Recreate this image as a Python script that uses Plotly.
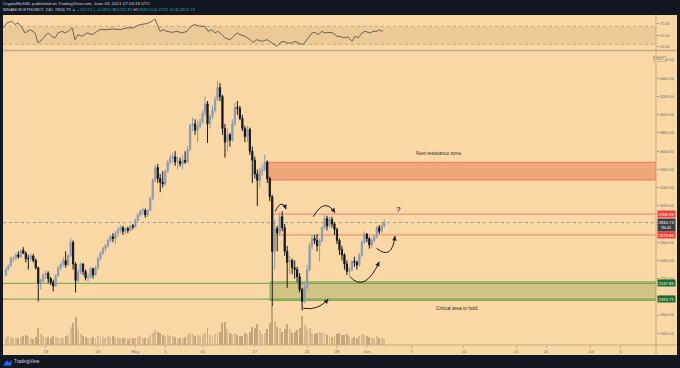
import pandas as pd
import plotly.graph_objects as go

# ---------------- data ----------------
FIRST_CANDLE = "2021-04-13 16:00"   # 8h candles, UTC
EPOCH = "2021-04-19"                # day 0 of the numeric time axis
first_open = 2240

highs = [2320,
    2360, 2445, 2440, 2480, 2500, 2520, 2545, 2500, 2460, 2480, 2470, 2420,
    2330, 2200, 2260, 2290, 2280, 2220, 2190, 2250, 2340, 2380, 2440, 2500,
    2470, 2645, 2620, 2380, 2300, 2380, 2370, 2300, 2260, 2330, 2320, 2340,
    2440, 2500, 2550, 2580, 2640, 2680, 2700, 2720, 2760, 2790, 2780, 2770,
    2770, 2790, 2800, 2860, 2920, 2960, 2980, 2970, 2960, 3100, 3300, 3450,
    3460, 3350, 3380, 3400, 3500, 3560, 3580, 3600, 3540, 3530, 3560, 3600,
    3660, 3900, 3970, 3950, 3940, 3960, 4050, 4200, 4150, 4000, 4100, 4200,
    4372, 4350, 4220, 3900, 3850, 3800, 3950, 4130, 4150, 4100, 4000, 3880,
    3880, 3860, 3650, 3540, 3400, 3420, 3450, 3560, 3500, 3320, 3120, 2850,
    2780, 2930, 2940, 2800, 2560, 2450, 2420, 2400, 2330, 2260, 2100, 2150,
    2350, 2600, 2680, 2680, 2690, 2640, 2780, 2910, 2890, 2880, 2880, 2820,
    2760, 2640, 2560, 2480, 2400, 2330, 2400, 2440, 2400, 2480, 2620, 2720,
    2700, 2660, 2640, 2680, 2780, 2790, 2820, 2849]
lows = [2230,
    2290, 2330, 2380, 2400, 2420, 2430, 2470, 2380, 2300, 2390, 2380, 2300,
    1950, 2080, 2150, 2200, 2150, 2130, 2060, 2110, 2220, 2290, 2330, 2320,
    2340, 2440, 2300, 2050, 2150, 2250, 2240, 2180, 2170, 2200, 2200, 2230,
    2300, 2400, 2460, 2500, 2540, 2600, 2600, 2580, 2660, 2700, 2680, 2690,
    2700, 2720, 2740, 2760, 2830, 2880, 2900, 2870, 2880, 2940, 3060, 3260,
    3250, 3150, 3200, 3220, 3360, 3450, 3470, 3440, 3400, 3430, 3400, 3460,
    3470, 3600, 3820, 3780, 3700, 3850, 3900, 3980, 3690, 3850, 3950, 4020,
    4150, 4150, 3780, 3530, 3600, 3650, 3700, 3880, 4000, 3940, 3820, 3700,
    3700, 3560, 3250, 3300, 3000, 3200, 3330, 3380, 3250, 3050, 1900, 2300,
    2500, 2680, 2720, 2450, 2100, 2250, 2250, 2200, 2160, 2050, 1850, 1930,
    2080, 2280, 2520, 2580, 2500, 2390, 2600, 2740, 2730, 2760, 2760, 2680,
    2580, 2460, 2400, 2300, 2240, 2220, 2280, 2330, 2300, 2330, 2440, 2580,
    2600, 2530, 2540, 2600, 2640, 2690, 2700, 2760]
closes = [2300,
    2340, 2420, 2430, 2460, 2440, 2510, 2480, 2420, 2420, 2450, 2400, 2320,
    2150, 2180, 2240, 2260, 2200, 2160, 2120, 2230, 2320, 2360, 2400, 2350,
    2450, 2600, 2360, 2180, 2270, 2360, 2280, 2210, 2220, 2310, 2240, 2320,
    2420, 2480, 2530, 2560, 2620, 2660, 2640, 2700, 2740, 2760, 2720, 2750,
    2730, 2780, 2770, 2840, 2900, 2940, 2950, 2900, 2950, 3080, 3280, 3420,
    3300, 3260, 3240, 3380, 3480, 3520, 3540, 3480, 3490, 3460, 3500, 3480,
    3620, 3880, 3900, 3830, 3880, 3920, 4020, 4120, 3900, 3980, 4050, 4170,
    4300, 4200, 3850, 3700, 3780, 3720, 3900, 4080, 4070, 3960, 3850, 3760,
    3840, 3600, 3500, 3350, 3280, 3380, 3400, 3480, 3300, 3100, 2500, 2750,
    2700, 2880, 2760, 2500, 2380, 2400, 2320, 2300, 2220, 2080, 1950, 2100,
    2300, 2560, 2640, 2620, 2560, 2620, 2760, 2860, 2780, 2850, 2800, 2740,
    2620, 2520, 2460, 2360, 2280, 2300, 2390, 2380, 2350, 2460, 2600, 2690,
    2640, 2570, 2620, 2660, 2760, 2720, 2780, 2816.73]
volumes = [600,   # thousand ETH per 8h candle
    700, 650, 600, 600, 550, 650, 750, 800, 700, 550, 500, 650,
    1400, 900, 700, 600, 650, 600, 700, 650, 600, 550, 600, 700,
    800, 1500, 1800, 2300, 1300, 900, 700, 650, 550, 600, 650, 600,
    700, 750, 650, 600, 700, 650, 700, 650, 600, 550, 600, 550,
    500, 600, 550, 600, 650, 700, 600, 550, 600, 800, 1000, 1200,
    1100, 1000, 800, 750, 800, 700, 700, 650, 600, 550, 600, 650,
    800, 1000, 900, 700, 800, 650, 800, 1000, 1400, 800, 750, 900,
    1000, 1100, 1800, 1900, 1300, 1000, 900, 1000, 800, 700, 750, 1000,
    900, 1100, 1500, 1400, 1700, 1200, 900, 1000, 1300, 1800, 3300, 2000,
    1500, 1400, 1100, 1300, 1700, 1300, 1000, 1100, 1200, 1400, 2400, 1600,
    1300, 1400, 1000, 900, 1000, 1100, 1000, 1100, 800, 700, 650, 700,
    900, 1000, 800, 800, 900, 700, 600, 650, 600, 700, 900, 800,
    700, 650, 600, 600, 700, 550, 600, 500]

# RSI (top pane), time in days from EPOCH
rsi_days = [-5.72, -5.18, -4.51, -4.11, -3.71, -3.17, -2.77, -2.10, -1.43, -1.03,
    -0.50, -0.09, 0.31, 0.84, 1.25, 1.65, 2.18, 2.58, 2.99, 3.54, 3.92, 4.33,
    4.86, 5.53, 6.20, 6.87, 7.27, 8.21, 9.01, 9.95, 10.89, 11.69, 12.23, 12.63,
    13.56, 14.23, 14.64, 14.90, 15.31, 15.71, 16.24, 16.91, 17.58, 18.25, 18.92,
    19.59, 20.00, 20.66, 21.33, 21.73, 22.27, 22.67, 23.07, 23.61, 24.01, 24.68,
    25.08, 25.62, 26.02, 26.69, 27.36, 27.76, 28.29, 28.96, 29.63, 30.30, 30.97,
    31.37, 31.78, 32.31, 32.98, 33.38, 33.78, 34.45, 35.12, 35.66, 36.06, 36.46,
    37.00, 37.40, 37.80, 38.47, 39.00, 39.41, 39.81, 40.48, 41.01, 41.41, 41.82,
    42.35, 42.76, 43.42, 43.83, 44.36, 44.63, 45.03, 45.16]
rsi_values = [66.4, 77.4, 81.0, 73.7, 77.4, 66.4, 55.3, 62.6, 55.3, 33.2,
    40.5, 47.8, 55.3, 47.8, 44.3, 55.3, 58.8, 55.3, 58.8, 66.4, 40.5, 51.5,
    47.8, 55.3, 51.5, 58.8, 62.6, 62.6, 64.1, 62.6, 66.4, 66.4, 69.9, 73.7,
    75.9, 81.0, 86.3, 73.7, 58.8, 62.6, 58.8, 56.6, 58.8, 55.3, 58.8,
    71.5, 73.7, 69.9, 69.9, 58.8, 62.6, 55.3, 58.8, 51.5, 44.3, 40.5,
    47.8, 55.3, 51.5, 47.8, 40.5, 34.5, 40.5, 36.8, 40.5, 33.2, 25.7,
    33.2, 36.8, 33.2, 33.2, 36.8, 33.2, 29.5, 44.3, 55.3, 56.6, 51.5,
    58.8, 55.3, 56.6, 55.3, 47.8, 47.8, 44.3, 46.5, 36.8, 47.8, 44.3,
    55.3, 58.8, 55.3, 58.8, 58.8, 62.6, 58.8, 61.0]

tick_dates = ["2021-04-19", "2021-04-26", "2021-05-01", "2021-05-05", "2021-05-10",
              "2021-05-17", "2021-05-24", "2021-05-28", "2021-06-01", "2021-06-07",
              "2021-06-14", "2021-06-21", "2021-06-25", "2021-07-01", "2021-07-05"]
tick_labels = ["19", "26", "May", "5", "10", "17", "24", "28", "Jun", "7",
               "14", "21", "25", "Jul", "5"]
price_ticks = [1600, 1800, 2000, 2200, 2400, 2600, 2800, 3000, 3200, 3400,
               3600, 3800, 4000, 4200, 4400, 4600]
rsi_ticks = [25, 50, 75]

resistance_zone = [3283, 3478]
support_zone = [1960, 2165]
red_levels = [2908.93, 2679.86]
green_levels = [2147.85, 1974.71]
last_price = 2816.73
countdown = "35:41"

# ---------------- derived ----------------
epoch = pd.Timestamp(EPOCH)
def day_of(ts):
    return (pd.Timestamp(ts) - epoch) / pd.Timedelta(days=1)

times = pd.date_range(FIRST_CANDLE, periods=len(closes), freq="8h")
days = [(t - epoch) / pd.Timedelta(days=1) for t in times]
opens = [first_open] + closes[:-1]
tick_days = [day_of(t) for t in tick_dates]

X_RANGE = [-5.72, 81.72]
BG = "#f9d8a6"
DARK = "#131722"
BORDER = "#c2a880"
TXT = "#6d6a66"
FONT = "Liberation Sans, Arial, sans-serif"

# pane geometry (paper fractions)
MAIN_TOP = 0.8909
RSI_BOT = 0.8939

fig = go.Figure()

# volume (base axis, drawn underneath)
vol_colors = ["rgba(165,140,105,0.40)" if c >= o else "rgba(145,115,80,0.50)"
              for o, c in zip(opens, closes)]
fig.add_trace(go.Bar(x=days, y=volumes, marker=dict(color=vol_colors, line=dict(width=0)),
                     width=0.26, yaxis="y", xaxis="x", showlegend=False))

# candles on price axis (overlay)
fig.add_trace(go.Candlestick(
    x=days, open=opens, high=highs, low=lows, close=closes,
    xaxis="x", yaxis="y3", whiskerwidth=0,
    increasing=dict(line=dict(color="#8e9aae", width=1), fillcolor="#8e9aae"),
    decreasing=dict(line=dict(color="#15171c", width=1), fillcolor="#15171c"),
    showlegend=False))

# RSI
fig.add_trace(go.Scatter(x=rsi_days, y=rsi_values, mode="lines", xaxis="x", yaxis="y2",
                         line=dict(color="#6e6253", width=1), showlegend=False))

shapes = []
# light chart area incl. axes strips
shapes.append(dict(type="rect", xref="paper", yref="paper", x0=0, x1=1.0322,
                   y0=-0.0303, y1=1.0, fillcolor=BG, line=dict(width=0), layer="below"))
# RSI band & dashed levels
shapes.append(dict(type="rect", xref="paper", yref="y2", x0=0, x1=1, y0=30, y1=70,
                   fillcolor="rgba(150,110,60,0.13)", line=dict(width=0), layer="below"))
for lv in (30, 70):
    shapes.append(dict(type="line", xref="paper", yref="y2", x0=0, x1=1, y0=lv, y1=lv,
                       line=dict(color="rgba(120,100,80,0.35)", width=1, dash="dot"), layer="below"))
# zones
shapes.append(dict(type="rect", xref="x", yref="y3", x0=day_of("2021-05-18 15:00"), x1=X_RANGE[1],
                   y0=resistance_zone[0], y1=resistance_zone[1],
                   fillcolor="rgba(228,105,70,0.45)", line=dict(color="rgba(220,110,80,0.8)", width=1),
                   layer="below"))
shapes.append(dict(type="rect", xref="x", yref="y3", x0=day_of("2021-05-19 01:00"), x1=X_RANGE[1],
                   y0=support_zone[0], y1=support_zone[1],
                   fillcolor="rgba(110,150,60,0.30)", line=dict(color="rgba(110,160,70,0.8)", width=1),
                   layer="below"))
for lv in green_levels:
    shapes.append(dict(type="line", xref="paper", yref="y3", x0=0, x1=1, y0=lv, y1=lv,
                       line=dict(color="#86ad5e", width=1.2), layer="below"))
for lv in red_levels:
    shapes.append(dict(type="line", xref="x", yref="y3", x0=day_of("2021-05-19 10:00"), x1=X_RANGE[1],
                       y0=lv, y1=lv, line=dict(color="#ee8070", width=1), layer="below"))
shapes.append(dict(type="line", xref="paper", yref="y3", x0=0, x1=1, y0=last_price, y1=last_price,
                   line=dict(color="#9a9ba3", width=1, dash="dot"), layer="below"))

# hand-drawn curved arrows (day, price)
curves = [
    ((30.70, 2935), (31.60, 3091), (32.18, 2962)),
    ((35.83, 2880), (37.33, 3100), (38.74, 2924)),
    ((40.75, 2221), (42.76, 2042), (44.67, 2386)),
    ((44.32, 2533), (46.37, 2394), (46.77, 2668)),
    ((34.49, 1875), (36.46, 1845), (37.84, 1976)),
]
heads = [(-1.4, -3.8), (-2.2, -3.3), (-1.7, 3.6), (-0.5, 4.0), (-2.6, 3.0)]
for (a, c, b) in curves:
    shapes.append(dict(type="path", xref="x", yref="y3",
                       path=f"M {a[0]},{a[1]} Q {c[0]},{c[1]} {b[0]},{b[1]}",
                       line=dict(color="#1c1f26", width=1)))

# pane borders
shapes.append(dict(type="line", xref="paper", yref="paper", x0=0, x1=1.0322, y0=0.8924, y1=0.8924,
                   line=dict(color=BORDER, width=1.5)))
shapes.append(dict(type="line", xref="paper", yref="paper", x0=0, x1=1.0322, y0=0, y1=0,
                   line=dict(color=BORDER, width=1)))
shapes.append(dict(type="line", xref="paper", yref="paper", x0=1, x1=1, y0=-0.0303, y1=1,
                   line=dict(color=BORDER, width=1)))
# TradingView logo mark
shapes.append(dict(type="path", xref="paper", yref="paper",
                   path="M 0.0,-0.062 L 0.006,-0.046 L 0.009,-0.054 L 0.013,-0.046 L 0.013,-0.062 Z",
                   fillcolor="#2962ff", line=dict(width=0)))

ann = []
for (a, c, b), (hx, hy) in zip(curves, heads):
    ann.append(dict(x=b[0], y=b[1], xref="x", yref="y3", text="", showarrow=True,
                    ax=hx, ay=hy, arrowhead=2, arrowsize=0.9, arrowwidth=1, arrowcolor="#1c1f26"))

ann.append(dict(x=52.7, y=3569, xref="x", yref="y3", text="Next resistance zone.", showarrow=False,
                font=dict(size=4.8, color="#2b2b2b", family=FONT)))
ann.append(dict(x=55.1, y=1877, xref="x", yref="y3", text="Critical area to hold.", showarrow=False,
                font=dict(size=4.8, color="#2b2b2b", family=FONT)))
ann.append(dict(x=47.3, y=2962, xref="x", yref="y3", text="<b>?</b>", showarrow=False,
                font=dict(size=8, color="#4a4a4a", family=FONT)))

# right-axis price labels
def price_tag(price, text, color, yshift=0):
    return dict(x=1.0168, y=price, xref="paper", yref="y3", text=text, showarrow=False,
                xanchor="center", yanchor="middle", bgcolor=color, borderpad=0.6,
                font=dict(size=4.2, color="white", family=FONT), yshift=yshift)
ann.append(price_tag(red_levels[0], f"{red_levels[0]:.2f}", "#ef3f3a"))
ann.append(price_tag(last_price, f"{last_price:.2f}<br>{countdown}", "#3b3f4a", yshift=-2))
ann.append(price_tag(red_levels[1], f"{red_levels[1]:.2f}", "#ef3f3a"))
for lv in green_levels:
    ann.append(price_tag(lv, f"{lv:.2f}", "#1f6b2a"))
ann.append(dict(x=1.0153, y=0.877, xref="paper", yref="paper", text="USDT", showarrow=False,
                font=dict(size=3.6, color="#555", family=FONT), bordercolor="#a39a8c",
                borderwidth=0.5, borderpad=0.5, bgcolor=BG))

# header
ann.append(dict(x=-0.003, y=1.0348, xref="paper", yref="paper", xanchor="left", yanchor="middle",
                showarrow=False, font=dict(size=4.4, color="#d1d4dc", family=FONT),
                text="CryptoMichNL published on TradingView.com, June 03, 2021 07:24:19 UTC"))
teal = "#26a69a"
ann.append(dict(x=-0.003, y=1.0152, xref="paper", yref="paper", xanchor="left", yanchor="middle",
                showarrow=False, font=dict(size=4.3, color="#d1d4dc", family=FONT),
                text=("BINANCE:ETHUSDT, 240  2816.73 "
                      f"<span style='color:{teal}'>▲ +110.51 (+4.08%)</span> "
                      f"O:<span style='color:{teal}'>2725.81</span> "
                      f"H:<span style='color:{teal}'>2849.00</span> "
                      f"L:<span style='color:{teal}'>2723.16</span> "
                      f"C:<span style='color:{teal}'>2816.73</span>")))
ann.append(dict(x=0.0138, y=-0.0515, xref="paper", yref="paper", xanchor="left", yanchor="middle",
                showarrow=False, font=dict(size=4.6, color="#d1d4dc", family=FONT),
                text="TradingView"))

fig.update_layout(
    width=680, height=368, autosize=False,
    margin=dict(l=3, r=24, t=15, b=23, pad=0),
    paper_bgcolor=DARK, plot_bgcolor=BG,
    font=dict(family=FONT, color=TXT),
    showlegend=False, bargap=0,
    shapes=shapes, annotations=ann,
    xaxis=dict(range=X_RANGE, showgrid=False, zeroline=False, showline=False,
               tickvals=tick_days, ticktext=tick_labels, ticks="outside", ticklen=2,
               tickcolor=BORDER, tickfont=dict(size=4.3, color=TXT), anchor="y",
               rangeslider=dict(visible=False), fixedrange=True),
    yaxis=dict(domain=[0, MAIN_TOP], range=[0, 24000], visible=False, fixedrange=True),
    yaxis3=dict(overlaying="y", range=[1471.5, 4700], side="right", anchor="x",
                showgrid=False, zeroline=False, showline=False,
                tickvals=price_ticks, ticktext=[f"{v:.2f}" for v in price_ticks],
                ticks="outside", ticklen=2, tickcolor="#9b8f80",
                tickfont=dict(size=3.9, color=TXT)),
    yaxis2=dict(domain=[RSI_BOT, 1], range=[17.7, 94.8], side="right", anchor="x",
                showgrid=False, zeroline=False, showline=False,
                tickvals=rsi_ticks, ticktext=[f"{v:.2f}" for v in rsi_ticks],
                ticks="outside", ticklen=2, tickcolor="#9b8f80",
                tickfont=dict(size=3.9, color=TXT)),
)

fig.write_html("out.html", config={"displayModeBar": False},
               post_script="document.body.style.margin='0';document.body.style.background='#131722';")
